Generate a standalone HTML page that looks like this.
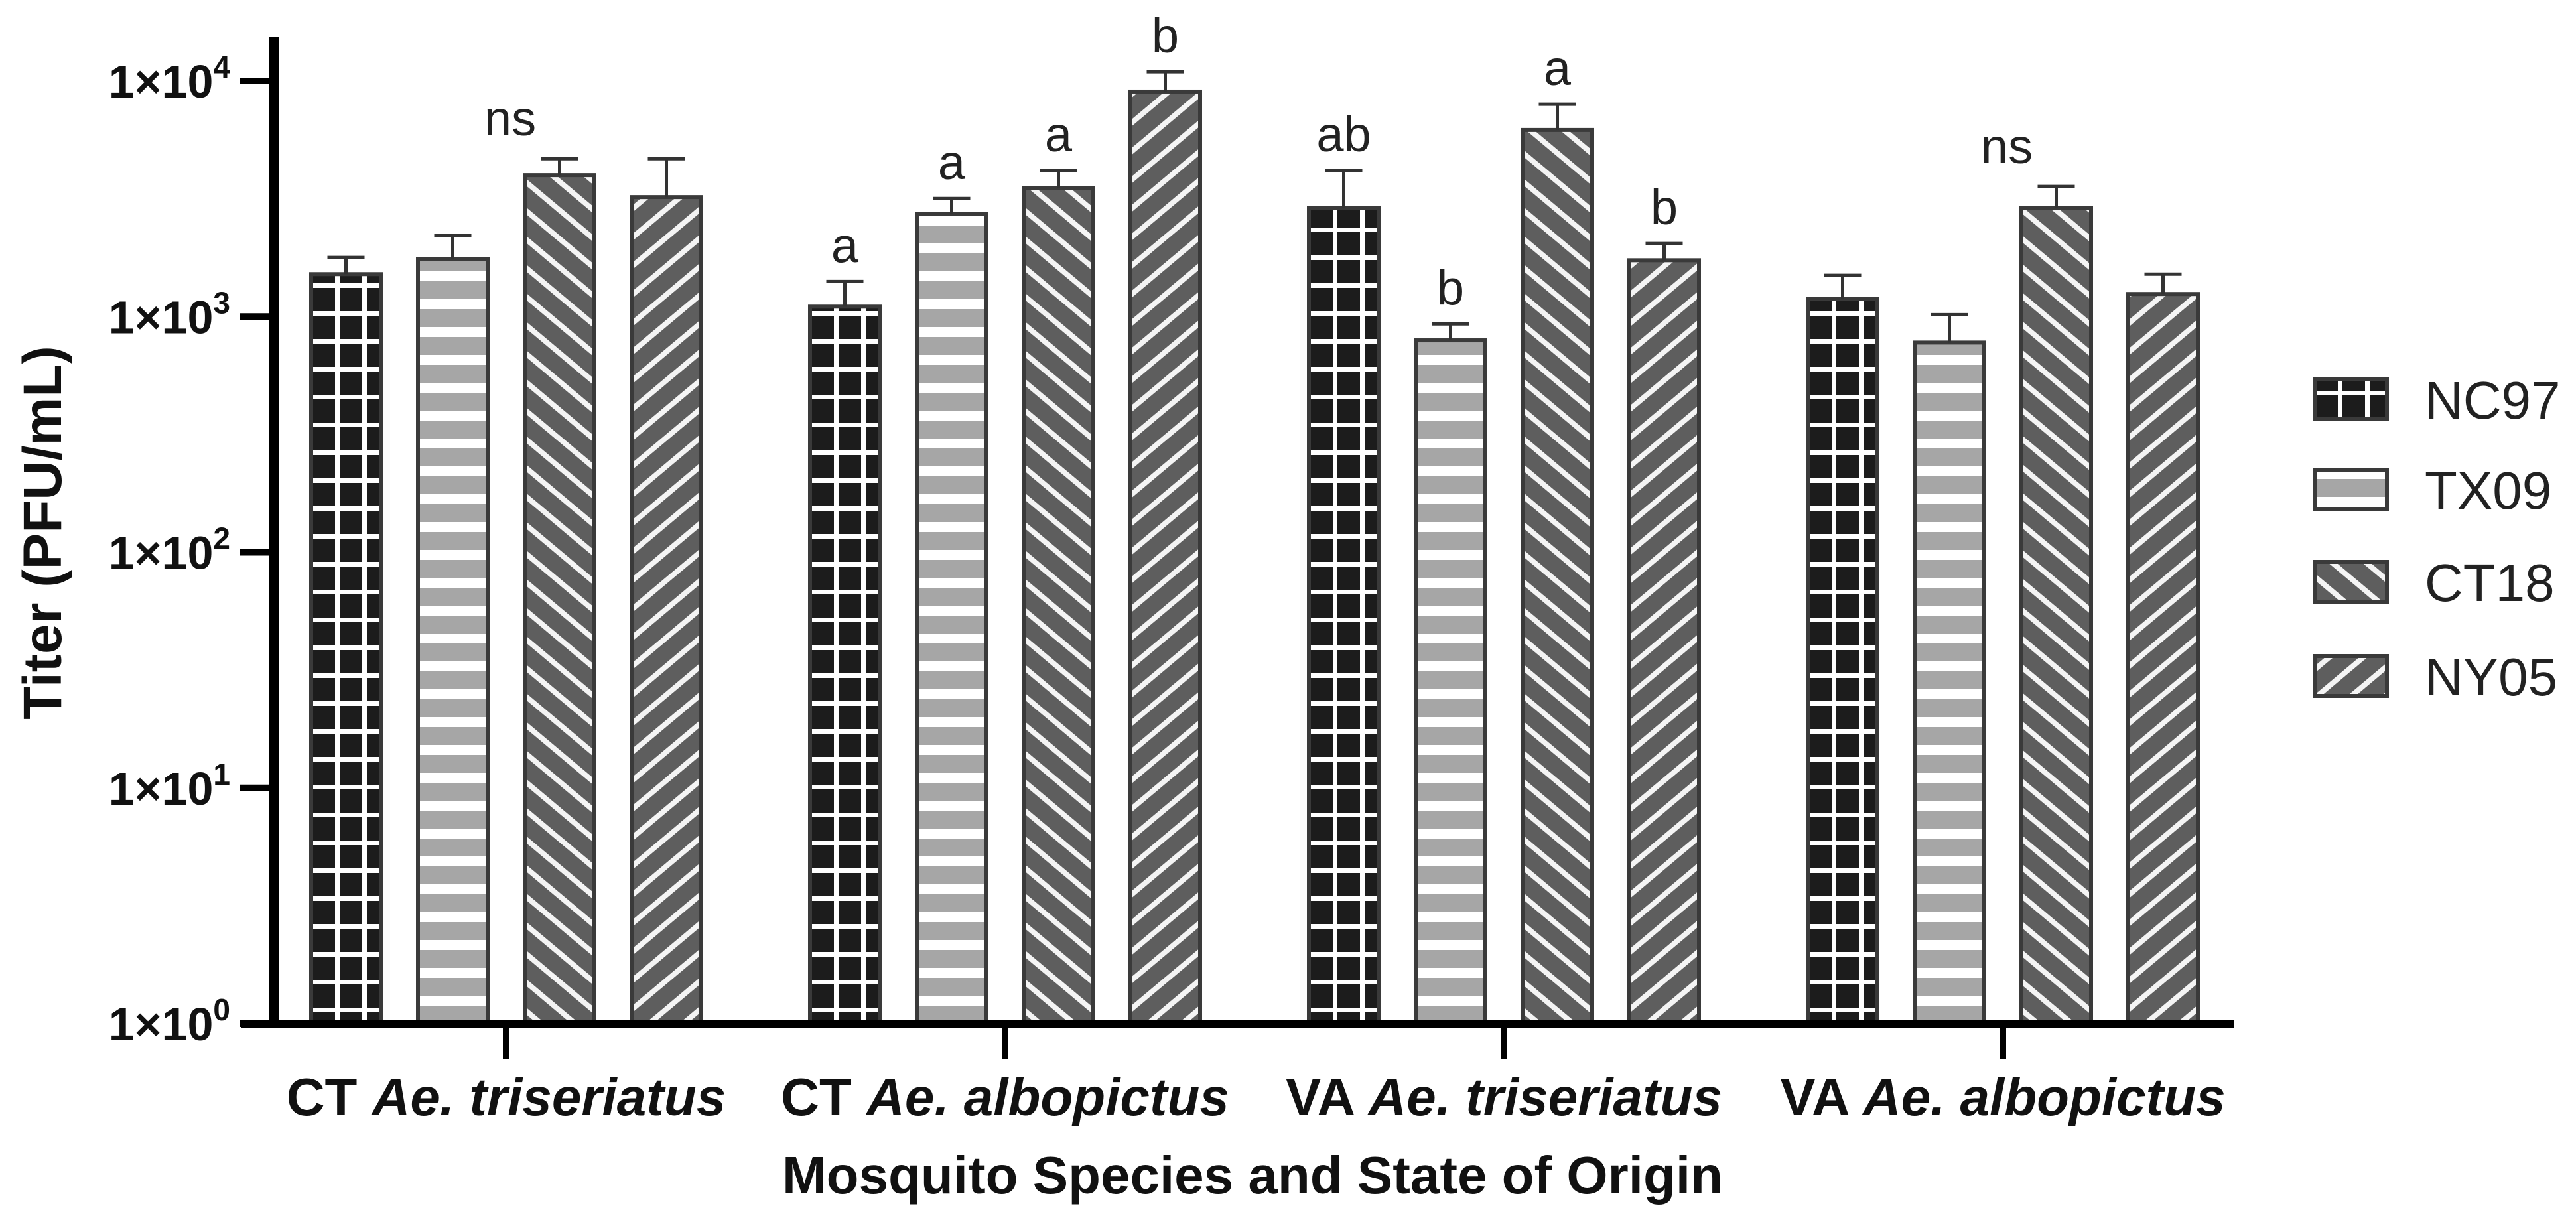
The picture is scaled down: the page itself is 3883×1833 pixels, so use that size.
<!DOCTYPE html>
<html><head><meta charset="utf-8"><style>
html,body{margin:0;padding:0;background:#fff;}
svg{display:block;}
text{font-family:"Liberation Sans",Arial,sans-serif;}
</style></head><body>
<svg id="chart" width="3883" height="1833" viewBox="0 0 3883 1833" xmlns="http://www.w3.org/2000/svg">
<defs id="defs"></defs>
<g id="bars"></g>
<g id="axes"></g>
<g id="legend"></g>
<text x="0" y="0" transform="translate(92,803) rotate(-90)" text-anchor="middle" font-size="82" font-weight="bold" fill="#111">Titer (PFU/mL)</text>
<text x="1888" y="1799" text-anchor="middle" font-size="80" font-weight="bold" fill="#111">Mosquito Species and State of Origin</text>
</svg>
<script>
const categories = ["CT|Ae. triseriatus", "CT|Ae. albopictus", "VA|Ae. triseriatus", "VA|Ae. albopictus"];
const seriesNames = ["NC97", "TX09", "CT18", "NY05"];
const meanNC97 = [1514, 1102, 2897, 1191];
const meanTX09 = [1758, 2735, 793, 776];
const meanCT18 = [3981, 3516, 6194, 2897];
const meanNY05 = [3214, 9016, 1734, 1247];
const upperNC97 = [1782, 1409, 4169, 1496];
const upperTX09 = [2208, 3170, 931, 1019];
const upperCT18 = [4677, 4169, 7962, 3565];
const upperNY05 = [4677, 10940, 2042, 1514];
const lettersNC97 = ["", "a", "ab", ""];
const lettersTX09 = ["", "a", "b", ""];
const lettersCT18 = ["", "a", "a", ""];
const lettersNY05 = ["", "b", "b", ""];
const groupNotes = ["ns", "", "", "ns"];
const yTickExps = [0, 1, 2, 3, 4];

const means = [meanNC97, meanTX09, meanCT18, meanNY05];
const uppers = [upperNC97, upperTX09, upperCT18, upperNY05];
const letters = [lettersNC97, lettersTX09, lettersCT18, lettersNY05];

const NS = "http://www.w3.org/2000/svg";
const Y_TOP = 122, Y_BOT = 1543, X0 = 413;
function yScale(v){ return Y_BOT - (Math.log10(Math.max(v,1)) / 4) * (Y_BOT - Y_TOP); }
function groupX(i){ return 763 + i * 752; }
function barX(i, j){ return groupX(i) + (j - 1.5) * 161; }
const BW = 105;
function mk(tag, attrs, parent){ const e = document.createElementNS(NS, tag); for (const k in attrs) e.setAttribute(k, attrs[k]); if (parent) parent.appendChild(e); return e; }

const defs = document.getElementById('defs');
let pid = 0;
function makePattern(type, x0, y0){
  const id = 'p' + (pid++);
  let p;
  if (type === 0){
    p = mk('pattern', {id:id, patternUnits:'userSpaceOnUse', width:41, height:42, x:x0+36, y:y0}, defs);
    mk('rect', {x:0,y:0,width:41,height:42,fill:'#1c1c1c'}, p);
    mk('rect', {x:0,y:0,width:7,height:42,fill:'#fff'}, p);
    mk('rect', {x:0,y:18,width:41,height:7,fill:'#fff'}, p);
  } else if (type === 1){
    p = mk('pattern', {id:id, patternUnits:'userSpaceOnUse', width:42, height:42, x:x0, y:y0}, defs);
    mk('rect', {x:0,y:0,width:42,height:42,fill:'#a6a6a6'}, p);
    mk('rect', {x:0,y:0,width:42,height:15,fill:'#fff'}, p);
  } else {
    const ang = type === 2 ? 40 : -40;
    p = mk('pattern', {id:id, patternUnits:'userSpaceOnUse', width:60, height:33, x:x0, y:y0, patternTransform:'rotate(' + ang + ' ' + x0 + ' ' + y0 + ')'}, defs);
    mk('rect', {x:0,y:0,width:60,height:33,fill:'#5e5e5e'}, p);
    mk('rect', {x:0,y:13,width:60,height:8,fill:'#f4f4f4'}, p);
  }
  return id;
}

const gBars = document.getElementById('bars');
for (let i = 0; i < categories.length; i++){
  for (let j = 0; j < seriesNames.length; j++){
    const cx = barX(i, j), x = cx - BW/2, yt = yScale(means[j][i]);
    const pat = makePattern(j, x, Y_BOT);
    const r = mk('rect', {x:x, y:yt, width:BW, height:Y_BOT-yt, fill:'url(#'+pat+')', stroke:'#3a3a3a', 'stroke-width':6}, gBars);
    
    
    const ye = yScale(uppers[j][i]);
    const eb = mk('path', {d:'M'+cx+' '+yt+'V'+ye+'M'+(cx-28)+' '+ye+'H'+(cx+28), stroke:'#333', 'stroke-width':5, fill:'none'}, gBars);
    
    
    if (letters[j][i]){
      const t = mk('text', {x:cx, y:ye-29, 'text-anchor':'middle', 'font-size':74, fill:'#222'}, gBars);
      t.textContent = letters[j][i];
      
      
    }
  }
  if (groupNotes[i]){
    const t = mk('text', {x:groupX(i)+6, y:yScale(uppers[2][i])-35, 'text-anchor':'middle', 'font-size':74, fill:'#222'}, gBars);
    t.textContent = groupNotes[i];
    
    
  }
}

const gAx = document.getElementById('axes');
const yl = mk('line', {x1:X0, y1:56, x2:X0, y2:Y_BOT+6, stroke:'#000', 'stroke-width':14}, gAx);


const xl = mk('line', {x1:364, y1:Y_BOT, x2:3367, y2:Y_BOT, stroke:'#000', 'stroke-width':12}, gAx);


yTickExps.forEach(function(e){
  const y = yScale(Math.pow(10, e));
  const tk = mk('line', {x1:362, y1:y, x2:X0, y2:y, stroke:'#000', 'stroke-width':10}, gAx);
  
  
  const t = mk('text', {x:347, y:y+25, 'text-anchor':'end', 'font-size':70, 'font-weight':'bold', fill:'#111'}, gAx);
  
  
  const a = mk('tspan', {}, t); a.textContent = '1\u00d710';
  const s = mk('tspan', {dy:-30, 'font-size':46}, t); s.textContent = String(e);
});
categories.forEach(function(c, i){
  const x = groupX(i);
  const tk = mk('line', {x1:x, y1:Y_BOT, x2:x, y2:1597, stroke:'#000', 'stroke-width':10}, gAx);
  
  
  const parts = c.split('|');
  const t = mk('text', {x:x, y:1681, 'text-anchor':'middle', 'font-size':80, 'font-weight':'bold', fill:'#111'}, gAx);
  
  
  const a = mk('tspan', {}, t); a.textContent = parts[0] + ' ';
  const b = mk('tspan', {'font-style':'italic'}, t); b.textContent = parts[1];
});

const gLeg = document.getElementById('legend');
const legY = [602, 738, 877, 1019];
seriesNames.forEach(function(n, j){
  const g = mk('g', {}, gLeg);
  
  
  const pat = makePattern(j, 3488, legY[j]-31);
  const r = mk('rect', {x:3490, y:legY[j]-30, width:108, height:60, fill:'url(#'+pat+')', stroke:'#3a3a3a', 'stroke-width':6}, g);
  
  
  const t = mk('text', {x:3655, y:legY[j]+29, 'font-size':80, fill:'#222'}, g);
  t.textContent = n;
  
  
});
</script>
</body></html>
